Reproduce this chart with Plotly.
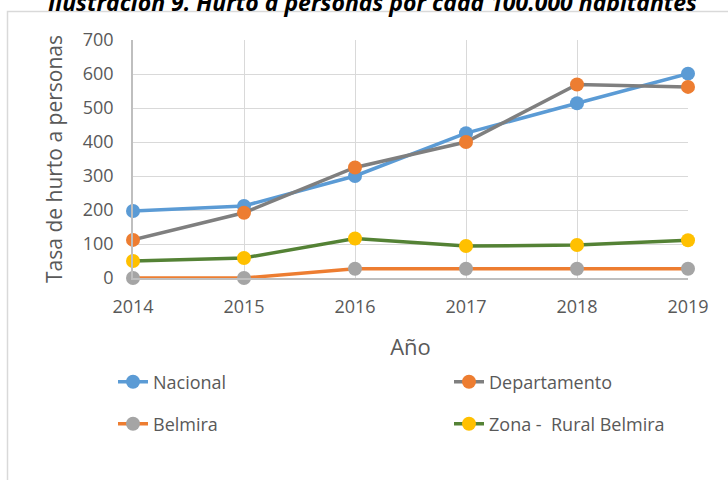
import plotly.graph_objects as go

# Data
years = [2014, 2015, 2016, 2017, 2018, 2019]
nacional = [197, 212, 300, 426, 514, 601]
departamento = [112, 192, 325, 400, 569, 562]
belmira = [0, 0, 27, 27, 27, 27]
zona_rural = [50, 59, 116, 94, 97, 111]
y_ticks = [0, 100, 200, 300, 400, 500, 600, 700]

title_text = "Ilustración 9. Hurto a personas por cada 100.000 habitantes"

font_family = "Open Sans, Liberation Sans, sans-serif"
text_color = "#595959"

# plot area in pixels
L, R, T, B = 133, 688, 40, 278


def px_x(p):
    return (p - L) / (R - L)


def px_y(p):
    return (B - p) / (B - T)


fig = go.Figure()

# (name, values, line colour, marker colour, legend id, legend pos in px)
series = [
    ("Nacional", nacional, "#5B9BD5", "#5B9BD5", "legend", (113, 382)),
    ("Departamento", departamento, "#7F7F7F", "#ED7D31", "legend2", (449, 382)),
    ("Belmira", belmira, "#ED7D31", "#A5A5A5", "legend3", (113, 424)),
    ("Zona -  Rural Belmira", zona_rural, "#548235", "#FFC000", "legend4", (449, 424)),
]

legends = {}
for name, vals, lcol, mcol, leg, (lx, ly) in series:
    fig.add_trace(
        go.Scatter(
            x=years, y=vals, name=name,
            mode="lines+markers",
            line=dict(color=lcol, width=3.5),
            marker=dict(color=mcol, size=14),
            legend=leg,
            cliponaxis=False,
        )
    )
    legends[leg] = dict(
        orientation="h",
        x=px_x(lx), xanchor="left",
        y=px_y(ly), yanchor="middle",
        font=dict(size=18, color=text_color, family=font_family),
        bgcolor="rgba(0,0,0,0)",
    )

fig.update_xaxes(
    range=[2014, 2019],
    tickvals=years,
    showgrid=True, gridcolor="#D9D9D9", gridwidth=1,
    showline=True, linecolor="#BFBFBF", linewidth=1.5,
    zeroline=False,
    automargin=False,
    tickfont=dict(size=18, color=text_color),
    ticklabelstandoff=12,
    title=dict(text="Año", font=dict(size=22, color=text_color), standoff=22),
)
fig.update_yaxes(
    range=[0, 700],
    tickvals=y_ticks,
    showgrid=True, gridcolor="#D9D9D9", gridwidth=1,
    showline=True, linecolor="#BFBFBF", linewidth=1.5,
    zeroline=False,
    automargin=False,
    tickfont=dict(size=18, color=text_color),
    ticklabelstandoff=14,
    title=dict(text="Tasa de hurto a personas", font=dict(size=21, color=text_color), standoff=14),
)

fig.update_layout(
    width=728, height=480,
    margin=dict(l=L, r=728 - R, t=T, b=480 - B),
    paper_bgcolor="white", plot_bgcolor="white",
    font=dict(family=font_family, color=text_color),
    showlegend=True,
    **legends,
)

# chart area border
fig.add_shape(
    type="rect", xref="paper", yref="paper",
    x0=px_x(7.5), x1=px_x(760), y0=px_y(520), y1=px_y(11.5),
    line=dict(color="#D9D9D9", width=1.5), layer="below",
)

# title, partly cut off at the top
fig.add_annotation(
    text="<b><i>" + title_text + "</i></b>",
    xref="paper", yref="paper",
    x=px_x(372), y=px_y(20),
    xanchor="center", yanchor="bottom",
    showarrow=False,
    font=dict(size=23, color="#000000", family=font_family),
)

# drop the page's default body margin so the figure sits at the top-left corner
fig.write_html(
    "out.html",
    config={"displayModeBar": False},
    post_script="document.body.style.margin='0';",
)
